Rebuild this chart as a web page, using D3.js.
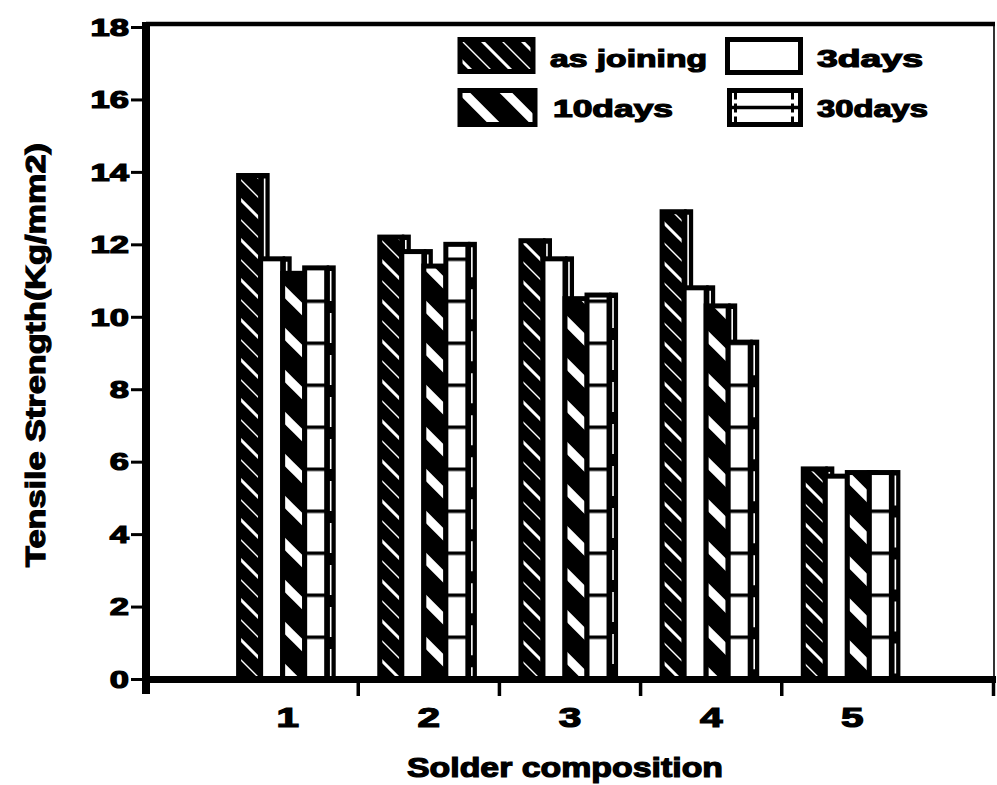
<!DOCTYPE html>
<html>
<head>
<meta charset="utf-8">
<script src="https://cdn.jsdelivr.net/npm/d3@7"></script>
<style>
  html, body { margin: 0; padding: 0; background: #fff; }
  svg text {
    font-family: "Liberation Sans", Arial, sans-serif;
    font-weight: bold;
    fill: #000;
    stroke: #000;
    stroke-width: 1.2px;
  }
</style>
</head>
<body>
<svg id="chart" width="997" height="785"></svg>
<script>
// Tensile strength of solder joints after ageing, by solder composition
const categories = ["1", "2", "3", "4", "5"];
const seriesNames = ["as joining", "3days", "10days", "30days"];
const asJoining = [13.9, 12.2, 12.1, 12.9, 5.8];
const days3     = [11.6, 11.8, 11.6, 10.8, 5.6];
const days10    = [11.2, 11.4, 10.5, 10.3, 5.7];
const days30    = [11.35, 12.0, 10.6, 9.3, 5.7];
const yTicks = [0, 2, 4, 6, 8, 10, 12, 14, 16, 18];
const xTickMarks = [1.5, 2.5, 3.5, 4.5, 6];
const xTitle = "Solder composition";
const yTitle = "Tensile Strength(Kg/mm2)";

const series = [asJoining, days3, days10, days30];
const fills = ["url(#hatchFine)", "#fff", "url(#hatchWide)", "url(#brick)"];

const svg = d3.select("#chart");
const x = d3.scaleLinear().domain([0, 6]).range([146, 993]);
const y = d3.scaleLinear().domain([0, 18]).range([679, 27]);
const y0 = y(0);

// ---- fill patterns ----
const defs = svg.append("defs");

const fine = defs.append("pattern").attr("id", "hatchFine")
  .attr("patternUnits", "userSpaceOnUse").attr("width", 40).attr("height", 40)
  .attr("y", y0);
fine.append("rect").attr("width", 40).attr("height", 40).attr("fill", "#000");
fine.append("path").attr("d", "M-10,-10L50,50M-10,30L10,50M30,-10L50,10")
  .attr("stroke", "#fff").attr("stroke-width", 3);
fine.append("path").attr("d", "M-10,10L30,50M10,-10L50,30")
  .attr("stroke", "#fff").attr("stroke-width", 1.4);

const wide = defs.append("pattern").attr("id", "hatchWide")
  .attr("patternUnits", "userSpaceOnUse").attr("width", 42).attr("height", 42)
  .attr("y", y0);
wide.append("rect").attr("width", 42).attr("height", 42).attr("fill", "#000");
wide.append("path").attr("d", "M-10,-10L52,52M-10,32L10,52M32,-10L52,10")
  .attr("stroke", "#fff").attr("stroke-width", 9);

const brick = defs.append("pattern").attr("id", "brick")
  .attr("patternUnits", "userSpaceOnUse").attr("width", 10).attr("height", 42)
  .attr("y", y0 - 1.5);
brick.append("rect").attr("width", 10).attr("height", 42).attr("fill", "#fff");
brick.append("rect").attr("width", 10).attr("height", 3.5).attr("fill", "#000");

// ---- bars (front face plus a dark side face) ----
const barW = x(0.156) - x(0);
const depth = x(0.064) - x(0);
const groupW = seriesNames.length * barW + depth;

const groups = svg.append("g").selectAll("g")
  .data(categories)
  .join("g");

groups.each(function (cat, gi) {
  const g = d3.select(this);
  const left = x(gi + 1) - groupW / 2;
  series.forEach((vals, si) => {
    const bx = left + si * barW;
    const top = y(vals[gi]);
    const h = y0 - top;
    // side face
    g.append("rect")
      .attr("x", bx + barW).attr("y", top - 2.5)
      .attr("width", depth).attr("height", h + 2.5)
      .attr("fill", "#000");
    g.append("line")
      .attr("x1", bx + barW + 4).attr("x2", bx + barW + 4)
      .attr("y1", top + 3).attr("y2", y0)
      .attr("stroke", "#fff").attr("stroke-width", 1.6)
      .attr("stroke-dasharray", si === 3 ? "30,12" : null);
    // front face
    g.append("rect")
      .attr("x", bx).attr("y", top)
      .attr("width", barW).attr("height", h)
      .attr("fill", fills[si])
      .attr("stroke", "#000").attr("stroke-width", 5);
  });
});

// ---- frame and axes ----
const axisColor = "#000";
// top frame
svg.append("line").attr("x1", x(0)).attr("x2", 995).attr("y1", 24).attr("y2", 24)
  .attr("stroke", axisColor).attr("stroke-width", 4.5);
// right frame
svg.append("line").attr("x1", 994).attr("x2", 994).attr("y1", 24).attr("y2", y0)
  .attr("stroke", axisColor).attr("stroke-width", 1.6);

const yAxis = svg.append("g")
  .attr("transform", `translate(${x(0)},0)`)
  .call(d3.axisLeft(y).tickValues(yTicks).tickSize(15).tickSizeOuter(0).tickPadding(2));
yAxis.select(".domain").remove();
yAxis.selectAll(".tick line").attr("stroke", axisColor).attr("stroke-width", 3);
yAxis.selectAll(".tick text").style("font-size", "23px").attr("dy", "0.36em");

const xAxis = svg.append("g")
  .attr("transform", `translate(0,${y0})`)
  .call(d3.axisBottom(x).tickValues(xTickMarks).tickSize(17).tickSizeOuter(0).tickFormat(""));
xAxis.select(".domain").remove();
xAxis.selectAll(".tick line").attr("stroke", axisColor).attr("stroke-width", 3.5);

const xLabels = svg.append("g")
  .attr("transform", `translate(0,${y0})`)
  .call(d3.axisBottom(x).tickValues(categories.map((c, i) => i + 1))
    .tickSize(0).tickPadding(29).tickFormat((d, i) => categories[i]));
xLabels.select(".domain").remove();
xLabels.selectAll(".tick text").style("font-size", "27px");

// axis lines
svg.append("line").attr("x1", x(0)).attr("x2", x(0)).attr("y1", 22).attr("y2", 694)
  .attr("stroke", axisColor).attr("stroke-width", 8);
svg.append("line").attr("x1", x(0) - 4).attr("x2", 996).attr("y1", y0 + 0.5).attr("y2", y0 + 0.5)
  .attr("stroke", axisColor).attr("stroke-width", 7);

// widen tick labels
svg.selectAll(".tick text").each(function () {
  const w = this.getComputedTextLength();
  d3.select(this).attr("textLength", w * 1.5).attr("lengthAdjust", "spacingAndGlyphs");
});

// ---- titles ----
svg.append("text")
  .attr("x", 565).attr("y", 777)
  .attr("text-anchor", "middle")
  .style("font-size", "28px")
  .attr("textLength", 316).attr("lengthAdjust", "spacingAndGlyphs")
  .text(xTitle);

svg.append("text")
  .attr("transform", "translate(45,355) rotate(-90)")
  .attr("text-anchor", "middle")
  .style("font-size", "27px")
  .attr("textLength", 424).attr("lengthAdjust", "spacingAndGlyphs")
  .text(yTitle);

// ---- legend ----
const keyPos = [
  { bx: 460, by: 39.5, bw: 73, bh: 32, tx: 550, ty: 67, tw: 157 },
  { bx: 727.5, by: 39.5, bw: 73, bh: 33, tx: 817, ty: 67, tw: 106 },
  { bx: 460, by: 90.5, bw: 75, bh: 34, tx: 553, ty: 117, tw: 120 },
  { bx: 729.5, by: 90.5, bw: 71, bh: 34, tx: 817, ty: 117, tw: 111 }
];
const keyOrder = [0, 1, 2, 3];
const legend = svg.append("g");
keyOrder.forEach((si, i) => {
  const p = keyPos[i];
  legend.append("rect")
    .attr("x", p.bx).attr("y", p.by).attr("width", p.bw).attr("height", p.bh)
    .attr("fill", si === 3 ? "#fff" : fills[si])
    .attr("stroke", "#000").attr("stroke-width", 5);
  if (si === 3) {
    legend.append("line").attr("x1", p.bx).attr("x2", p.bx + p.bw)
      .attr("y1", p.by + p.bh / 2).attr("y2", p.by + p.bh / 2)
      .attr("stroke", "#000").attr("stroke-width", 3.5);
    [p.bx + 6, p.bx + p.bw - 8].forEach(vx => {
      legend.append("line").attr("x1", vx).attr("x2", vx)
        .attr("y1", p.by).attr("y2", p.by + p.bh)
        .attr("stroke", "#000").attr("stroke-width", 3)
        .attr("stroke-dasharray", "9,4");
    });
  }
  legend.append("text")
    .attr("x", p.tx).attr("y", p.ty)
    .style("font-size", "24px")
    .attr("textLength", p.tw).attr("lengthAdjust", "spacingAndGlyphs")
    .text(seriesNames[si]);
});
</script>
</body>
</html>
